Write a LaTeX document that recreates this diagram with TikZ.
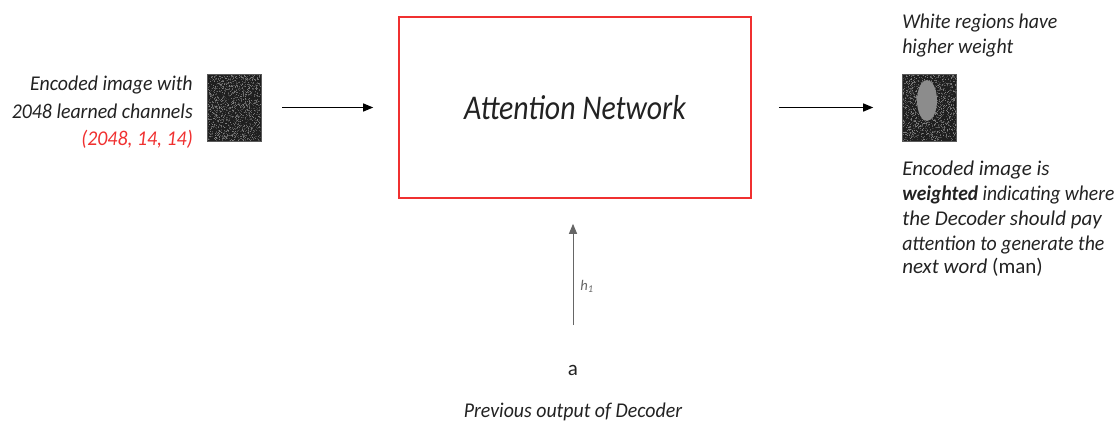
\documentclass[tikz,border=0pt]{standalone}
\usepackage{fontspec}
\setmainfont{Carlito}
\newfontfamily\fnarrow[FakeStretch=0.945]{Carlito}
\newfontfamily\fbold[FakeStretch=0.93]{Carlito}
\newfontfamily\fatt[FakeStretch=0.86]{Carlito}
\usetikzlibrary{arrows.meta,calc}
\definecolor{boxred}{HTML}{F03030}
\definecolor{txtgray}{HTML}{222222}
\begin{document}
\begin{tikzpicture}[x=0.75pt,y=-0.75pt,
  txt/.style={inner sep=0pt, font=\fontsize{15.75}{19}\selectfont\itshape, text=txtgray},
  ntxt/.style={inner sep=0pt, font=\fnarrow\fontsize{15.75}{19}\selectfont\itshape, text=txtgray},
  arr/.style={-{Triangle[length=7.5pt,width=6pt]}, line width=0.9pt},
  imgbox/.style={inner sep=0pt, fill=black!88, draw=black!65, line width=0.4pt, minimum width=40.5pt, minimum height=50.25pt},
]
\useasboundingbox (0,0) rectangle (1120,425);
% left text
\node[ntxt, anchor=base east] (l1) at (193,90) {Encoded image with};
\node[ntxt, anchor=base east] (l2) at (193,118) {2048 learned channels};
\node[ntxt, anchor=base east, text=boxred] (l3) at (193,145) {(2048, 14, 14)};
% images
\node[imgbox] (encin) at (234,107.5) {};
\node[imgbox] (encout) at (929.5,107.5) {};
\pgfmathsetseed{7}
\foreach \k in {1,...,1500}{
  \pgfmathsetmacro\xx{207.5+52.5*rnd}
  \pgfmathsetmacro\yy{74.5+65.5*rnd}
  \pgfmathsetmacro\gg{18+35*rnd}
  \fill[white!\gg!black] (\xx,\yy) rectangle ++(1,1);
  \pgfmathsetmacro\xx{902.5+53.5*rnd}
  \pgfmathsetmacro\yy{74.5+65.5*rnd}
  \pgfmathsetmacro\gg{18+35*rnd}
  \fill[white!\gg!black] (\xx,\yy) rectangle ++(1,1);
}
\fill[black!45] (927,100.5) ellipse [x radius=10, y radius=20.5];
% attention box
\node[draw=boxred, line width=1.2pt, minimum width=264pt, minimum height=135.75pt,
      font=\fatt\fontsize{26}{30}\selectfont\itshape, text=txtgray] (att) at (575,107.5) {Attention Network};
% arrows
\draw[arr, shorten <=15.75pt, shorten >=18.75pt] (encin) -- (att);
\draw[arr, shorten <=20.25pt, shorten >=21.75pt] (att) -- (encout);
\coordinate (hstart) at (573,325);
\draw[-{Triangle[length=7.5pt,width=6pt]}, line width=0.75pt, draw=black!60, shorten >=18.75pt] (hstart) -- (hstart |- att.south);
\node[inner sep=0pt, font=\fontsize{11}{13}\selectfont\itshape, text=black!60, anchor=base west] (h1) at (580,290) {h\textsubscript{1}};
% bottom
\node[txt, font=\fontsize{15.75}{19}\selectfont, anchor=base] (a) at (573,375) {a};
\node[ntxt, anchor=base] (prev) at (573,417) {Previous output of Decoder};
% right text
\node[ntxt, anchor=base west] (r1) at (902,28) {White regions have};
\node[ntxt, anchor=base west] (r2) at (902,53) {higher weight};
\node[txt, anchor=base west] (r3) at (902,175) {Encoded image is};
\node[txt, font=\fbold\fontsize{15.75}{19}\selectfont\itshape, anchor=base west] (r4) at (902,200) {\textbf{weighted} indicating where};
\node[txt, anchor=base west] (r5) at (902,225) {the Decoder should pay};
\node[ntxt, anchor=base west] (r6) at (902,250) {attention to generate the};
\node[txt, anchor=base west] (r7) at (902,273) {next word \textup{(man)}};
\end{tikzpicture}
\end{document}
